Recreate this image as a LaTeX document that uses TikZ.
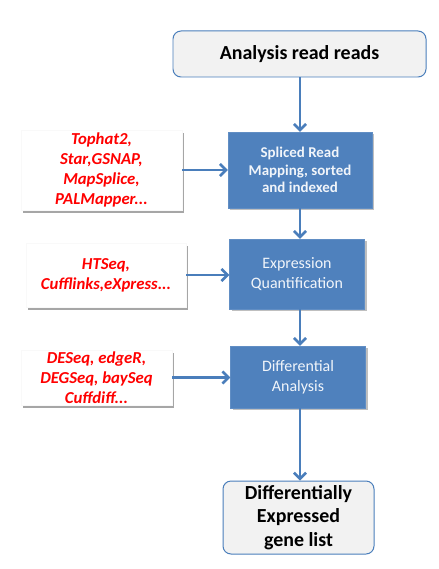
\documentclass[tikz,border=0pt]{standalone}
\usepackage{fontspec}
\setmainfont{Carlito}
\usepackage{tikz}
\usetikzlibrary{positioning,arrows.meta,shadows,calc}
\definecolor{boxblue}{HTML}{4F81BD}
\definecolor{lineblue}{HTML}{4A7EBB}
\definecolor{endfill}{HTML}{F2F2F2}
\tikzset{
	endbox/.style={draw=lineblue, line width=1pt, fill=endfill, rounded corners=8bp, inner sep=0pt, align=center, font=\fontsize{20}{23.5}\selectfont\bfseries},
	stepbox/.style={fill=boxblue, draw=boxblue!90!white, inner sep=0pt, align=center, text=white!92!boxblue, drop shadow={shadow xshift=2bp, shadow yshift=-2bp, fill=black, opacity=.25}, font=\fontsize{16}{20}\selectfont},
	toolbox/.style={fill=white, draw=gray!5, inner sep=0pt, align=center, text=red, drop shadow={shadow xshift=2bp, shadow yshift=-3bp, fill=black, opacity=.35}, font=\fontsize{16.8}{20}\selectfont\bfseries\itshape},
	flow/.style={draw=lineblue, line width=2.6bp, -{Straight Barb[length=6bp,width=12bp,line width=2.6bp]}}
}
\begin{document}
\begin{tikzpicture}[x=1bp,y=-1bp]
		\useasboundingbox (0,0) rectangle (439,569);

		\node[endbox, minimum width=253bp, minimum height=46bp] (reads) at (299.5,54) {Analysis read reads};

		\node[stepbox, minimum width=144bp, minimum height=76bp, font=\fontsize{15}{17.5}\selectfont\bfseries] (mapping) at (300,170) {Spliced Read\\Mapping, sorted\\and indexed};
		\node[stepbox, minimum width=135bp, minimum height=70bp] (quant) at (297,274) {Expression\\Quantification};
		\node[stepbox, minimum width=135bp, minimum height=62bp] (diff) at (298,377) {Differential\\Analysis};

		\node[endbox, minimum width=151bp, minimum height=73bp] (genes) at (298.5,517.5) {Differentially\\Expressed\\gene list};

		\node[toolbox, minimum width=161bp, minimum height=80bp] (mappers) at (101.5,170) {Tophat2,\\Star,GSNAP,\\MapSplice,\\PALMapper...};
		\node[toolbox, minimum width=160bp, minimum height=64bp] (counters) at (106,275) {HTSeq,\\Cufflinks,eXpress...};
		\node[toolbox, minimum width=151bp, minimum height=55bp] (testers) at (96.5,377.5) {DESeq, edgeR,\\DEGSeq, baySeq\\Cuffdiff...};

		\draw[flow] (reads.south -| 300,0) -- (mapping.north -| 300,0);
		\draw[flow] (mapping.south -| 300,0) -- (quant.north -| 300,0);
		\draw[flow] (quant.south -| 300,0) -- (diff.north -| 300,0);
		\draw[flow] (diff.south -| 300,0) -- (genes.north -| 300,0);

		\draw[flow] (mappers.east) -- (mapping.west |- mappers.east);
		\draw[flow] (counters.east) -- (quant.west |- counters.east);
		\draw[flow] (testers.east) -- (diff.west |- testers.east);
	\end{tikzpicture}
\end{document}
